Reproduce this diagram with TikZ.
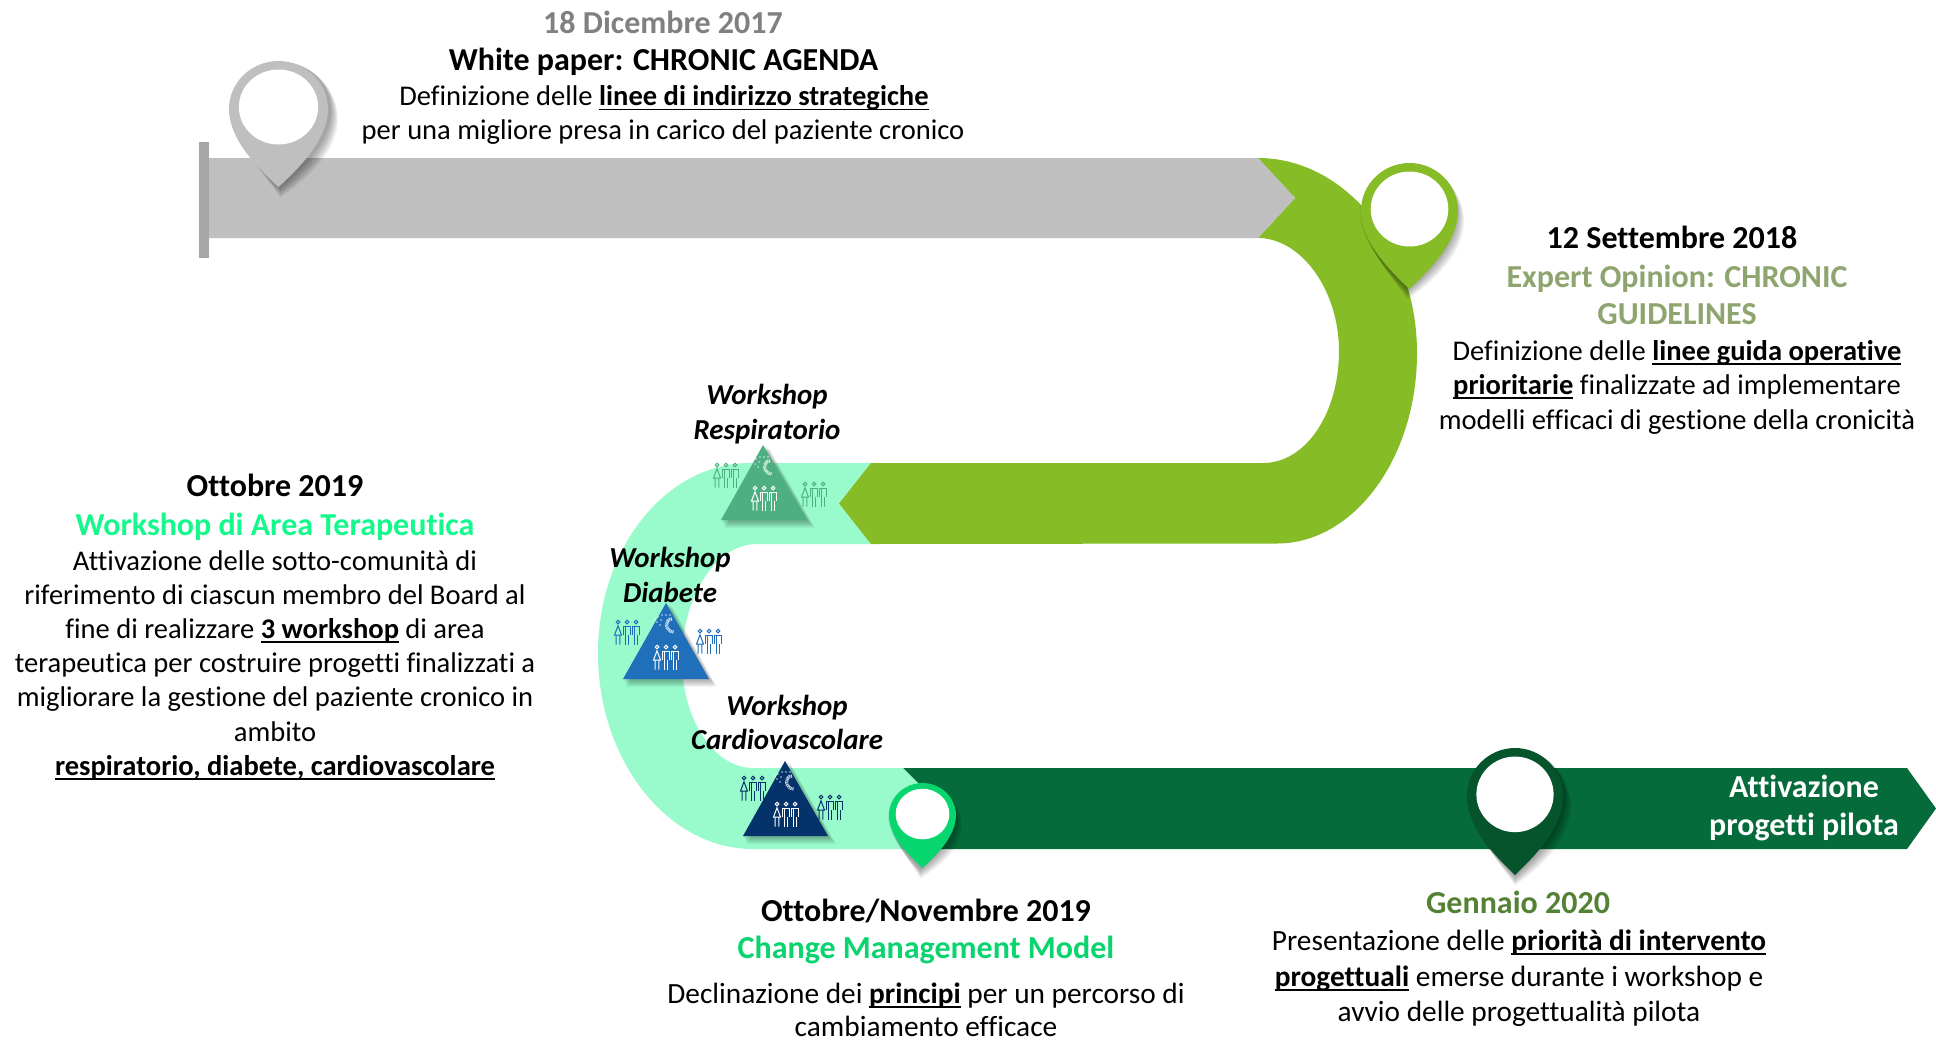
\documentclass[tikz,border=0pt]{standalone}
\usepackage{fontspec}
\setmainfont[Ligatures={NoCommon}]{Carlito}
\definecolor{cGrey}{HTML}{BFBFBF}
\definecolor{cStrip}{HTML}{A6A6A6}
\definecolor{cGreen}{HTML}{86BC25}
\definecolor{cLight}{HTML}{99FBCB}
\definecolor{cDark}{HTML}{066B3A}
\definecolor{cBright}{HTML}{07D56E}
\definecolor{cDeep}{HTML}{05542B}
\definecolor{cTriA}{HTML}{4EB082}
\definecolor{cTriB}{HTML}{1F6FBA}
\definecolor{cTriC}{HTML}{04326A}
\definecolor{tGrey}{HTML}{808080}
\definecolor{tSage}{HTML}{8FA56F}
\definecolor{tMint}{HTML}{14F98C}
\definecolor{tChange}{HTML}{09D46E}
\definecolor{tGen}{HTML}{548235}
\newcommand\fbody{\fontsize{21.4}{25}\selectfont}
\newcommand\fbodyb{\fontsize{22}{25}\selectfont}
\newcommand\fhead{\fontsize{24}{28}\selectfont\bfseries}
\newcommand\fws{\fontsize{21.7}{25}\selectfont\bfseries\itshape}
\newcommand\ulb[1]{{\setbox0\hbox{\bfseries #1}\rlap{\rule[-3.7pt]{\wd0}{1.1pt}}\box0}}
\tikzset{
  x=0.75pt,y=-0.75pt,
  txt/.style={anchor=base,inner sep=0pt,outer sep=0pt},
  body/.style={txt,font=\fbody,text=black},
  bodyb/.style={txt,font=\fbodyb,text=black},
  head/.style={txt,font=\fhead,text=black},
  wslabel/.style={txt,font=\fws,text=black},
}
% teardrop: centre x, top y, width, height
\newcommand\teardrop[4]{%
  (#1,#2+#4) .. controls (#1-0.22*#3,#2+0.84*#4) and (#1-0.5*#3,#2+0.62*#4) .. (#1-0.5*#3,#2+0.38*#4)
  .. controls (#1-0.5*#3,#2+0.167*#4) and (#1-0.27*#3,#2) .. (#1,#2)
  .. controls (#1+0.27*#3,#2) and (#1+0.5*#3,#2+0.167*#4) .. (#1+0.5*#3,#2+0.38*#4)
  .. controls (#1+0.5*#3,#2+0.62*#4) and (#1+0.22*#3,#2+0.84*#4) .. (#1,#2+#4) -- cycle}
% pin: cx, top, width, height, colour, shadow dx
\newcommand\pinmark[6]{%
  \foreach \s in {8,7,6,5,4,3,2,1}{%
    \fill[black,opacity=0.05] \teardrop{#1+#6}{#2+1}{#3+\s*1.0}{#4-1+\s*1.3};
  }
  \fill[#5] \teardrop{#1}{#2}{#3}{#4};
  \fill[white] (#1,#2+0.365*#4) ellipse [x radius=0.4*#3,y radius=0.2975*#4];
}
% triangle with soft shadow: apex x,y ; base left, base right, base y, colour
\newcommand\tri[6]{%
  \foreach \s in {8,7,6,5,4,3,2,1}{%
    \fill[black,opacity=0.045] (#1+\s*0.8,#2+\s*0.5) -- (#4+\s*1.0,#5+\s*1.0) -- (#3+\s*0.5,#5+\s*1.0) -- cycle;
  }
  \fill[#6] (#1,#2) -- (#4,#5) -- (#3,#5) -- cycle;
}
% three figures: centre x, head y, colour
\newcommand\people[3]{%
  \begin{scope}[shift={(#1,#2)},draw=#3,line width=0.75pt]
    \foreach \dx in {-9,0,9}{\draw (\dx,0) circle (1.8);}
    \draw (-9,3.8) -- (-12.5,13) -- (-5.5,13) -- cycle (-10.8,13) -- (-10.8,22.5) (-7.2,13) -- (-7.2,22.5);
    \foreach \dx in {0,9}{%
      \draw (\dx-3.6,13) -- (\dx-3.6,4) -- (\dx+3.6,4) -- (\dx+3.6,13)
            (\dx-1.8,13) -- (\dx-1.8,22.5) (\dx+1.8,13) -- (\dx+1.8,22.5)
            (\dx-1.8,4) -- (\dx-1.8,13) (\dx+1.8,4) -- (\dx+1.8,4);
    }
  \end{scope}
}
% swirl logo
\newcommand\logomark[2]{%
  \begin{scope}[shift={(#1,#2)},white,opacity=0.75]
    \draw[line width=2.4pt,dash pattern=on 0.9pt off 0.5pt] (5,-6) .. controls (-3,-6) and (-2,7) .. (7,7);
    \foreach \px/\py in {-9/-8,-5/-10,-1/-10,-10/-3,-6/-5,-12/-6,-7/0,3/-10}{\fill (\px,\py) circle (0.8);}
  \end{scope}
}
\begin{document}
\begin{tikzpicture}
\useasboundingbox (0,0) rectangle (1936,1040);
\fill[white] (0,0) rectangle (1936,1040);
% ribbon
\fill[cDark] (903,768) -- (1907,768) -- (1936,808.5) -- (1907,849) -- (903,849) -- (943,808.5) -- cycle;
\fill[cLight] (871,463) -- (750,463) .. controls (666,463) and (598,548) .. (598,653)
  .. controls (598,761) and (668,849) .. (753,849) -- (903,849) -- (943,808.5) -- (903,768) -- (753,768)
  .. controls (714,768) and (682,720) .. (682,660) .. controls (682,596) and (716,544) .. (757,544)
  -- (871,544) -- (839,503.5) -- cycle;
\fill[cGreen] (1258,158) .. controls (1345,158) and (1417,246) .. (1417,353)
  .. controls (1417,458) and (1354,543.5) .. (1277,543.5) -- (871,544) -- (839,503.5) -- (871,463) -- (1263,463)
  .. controls (1306,463) and (1339,413) .. (1339,351) .. controls (1339,290) and (1301,238) .. (1258,238)
  -- (1295,198) -- cycle;
\fill[cGrey] (209,158) -- (1258,158) -- (1295,198) -- (1258,238) -- (209,238) -- cycle;
\fill[cStrip] (199,142) rectangle (209,258);
% pins
\pinmark{278.5}{61}{99}{126}{cGrey}{2}
\pinmark{1409.5}{163}{97}{126}{cGreen}{-2}
\pinmark{922.5}{783}{67}{85}{cBright}{-2}
\pinmark{1515}{748}{96.5}{127}{cDeep}{0}
% triangles and figures
\tri{763}{445}{721}{807}{520}{cTriA}
\tri{666}{603}{623}{709}{679}{cTriB}
\tri{785}{761}{743}{828}{836}{cTriC}
\logomark{765}{467}
\logomark{667}{625}
\logomark{787}{782}
\people{726}{465}{cTriA}
\people{814}{484}{cTriA}
\people{764}{488}{white}
\people{627}{622}{cTriB}
\people{709}{631}{cTriB}
\people{666}{647}{white}
\people{753}{778}{cTriC}
\people{830}{797}{cTriC}
\people{786}{804}{white}
% top text
\node[head,text=tGrey] (t1a) at (663,33) {18 Dicembre 2017};
\node[head] (t1b) at (663.5,70) {White paper: CHRONIC AGENDA};
\node[body] (t1c) at (664,105.5) {Definizione delle \ulb{linee di indirizzo strategiche}};
\node[body] (t1d) at (663,139.5) {per una migliore presa in carico del paziente cronico};
% right text
\node[head] (t2a) at (1672,248.5) {12 Settembre 2018};
\node[head,text=tSage] (t2b) at (1677,287) {Expert Opinion: CHRONIC};
\node[head,text=tSage] (t2c) at (1677,324) {GUIDELINES};
\node[body] (t2d) at (1677,360) {Definizione delle \ulb{linee guida operative}};
\node[body] (t2e) at (1677,394) {\ulb{prioritarie} finalizzate ad implementare};
\node[body] (t2f) at (1677,429) {modelli efficaci di gestione della cronicità};
% left text
\node[head] (t3a) at (275,496) {Ottobre 2019};
\node[head,text=tMint] (t3b) at (275,535) {Workshop di Area Terapeutica};
\node[body] (t3c) at (275,570) {Attivazione delle sotto-comunità di};
\node[body] (t3d) at (275,604) {riferimento di ciascun membro del Board al};
\node[body] (t3e) at (275,638) {fine di realizzare \ulb{3 workshop} di area};
\node[body] (t3f) at (275,672) {terapeutica per costruire progetti finalizzati a};
\node[body] (t3g) at (275,706) {migliorare la gestione del paziente cronico in};
\node[body] (t3h) at (275,741) {ambito};
\node[body] (t3i) at (275,775) {\ulb{respiratorio, diabete, cardiovascolare}};
% bottom centre
\node[head] (t4a) at (926,921) {Ottobre/Novembre 2019};
\node[head,text=tChange] (t4b) at (926,958) {Change Management Model};
\node[bodyb] (t4c) at (926,1003) {Declinazione dei \ulb{principi} per un percorso di};
\node[bodyb] (t4d) at (926,1036) {cambiamento efficace};
% bottom right
\node[head,text=tGen] (t5a) at (1518,913) {Gennaio 2020};
\node[bodyb] (t5b) at (1519,950) {Presentazione delle \ulb{priorità di intervento}};
\node[bodyb] (t5c) at (1519,986) {\ulb{progettuali} emerse durante i workshop e};
\node[bodyb] (t5d) at (1519,1021) {avvio delle progettualità pilota};
% arrow label
\node[head,text=white] (t6a) at (1804,797) {Attivazione};
\node[head,text=white] (t6b) at (1804,835) {progetti pilota};
% workshop labels
\node[wslabel] (w1a) at (767,404) {Workshop};
\node[wslabel] (w1b) at (767,439) {Respiratorio};
\node[wslabel] (w2a) at (670,567) {Workshop};
\node[wslabel] (w2b) at (670,602) {Diabete};
\node[wslabel] (w3a) at (787,715) {Workshop};
\node[wslabel] (w3b) at (787,749) {Cardiovascolare};
\end{tikzpicture}
\end{document}
